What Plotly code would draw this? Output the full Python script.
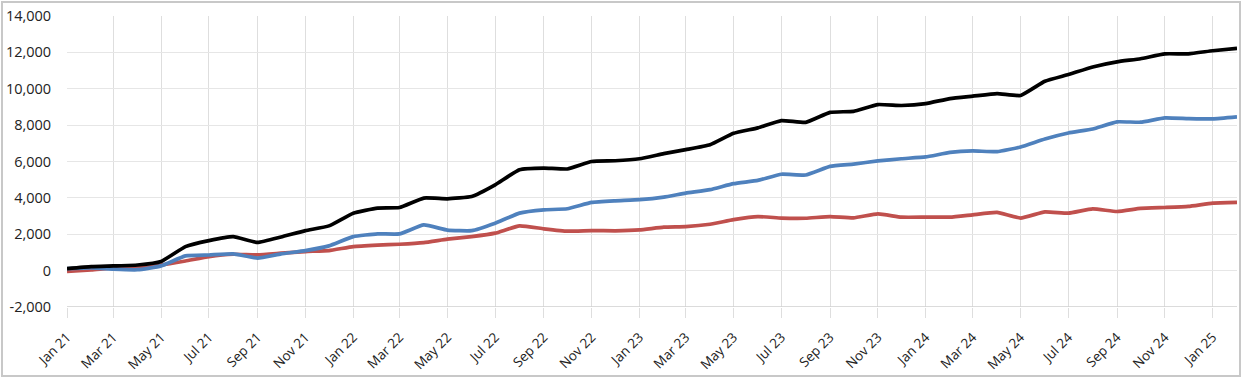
import plotly.graph_objects as go
import pandas as pd

months = pd.date_range("2021-01-01", "2025-02-01", freq="MS")

black_series = [110, 220, 260, 310, 500, 1320, 1650, 1870, 1550, 1850, 2200, 2460,
                3160, 3440, 3470, 3990, 3950, 4080, 4720, 5550, 5640, 5590, 6000, 6040,
                6150, 6430, 6650, 6920, 7550, 7850, 8250, 8150, 8700, 8760, 9130, 9080,
                9180, 9460, 9590, 9730, 9630, 10410, 10780, 11200, 11480, 11650, 11920, 11920,
                12090, 12220]
blue_series = [110, 150, 80, 50, 260, 810, 860, 920, 690, 920, 1100, 1360,
               1870, 2020, 2020, 2510, 2230, 2200, 2610, 3160, 3340, 3400, 3750, 3840,
               3900, 4040, 4260, 4450, 4780, 4960, 5300, 5260, 5730, 5860, 6030, 6150,
               6250, 6500, 6580, 6540, 6800, 7240, 7570, 7790, 8180, 8160, 8400, 8360,
               8340, 8450]
red_series = [-40, 40, 150, 190, 310, 530, 770, 900, 870, 960, 1050, 1100,
              1320, 1400, 1450, 1540, 1730, 1870, 2060, 2460, 2300, 2170, 2200, 2190,
              2240, 2390, 2420, 2550, 2800, 2970, 2890, 2880, 2970, 2900, 3120, 2940,
              2940, 2940, 3070, 3200, 2890, 3230, 3160, 3400, 3250, 3420, 3470, 3530,
              3710, 3750]

y_ticks = [-2000, 0, 2000, 4000, 6000, 8000, 10000, 12000, 14000]
y_labels = [f"{v:,}" for v in y_ticks]

fig = go.Figure()
for vals, col in [(red_series, "#c0504d"), (blue_series, "#4f81bd"), (black_series, "#000000")]:
    fig.add_trace(go.Scatter(x=months, y=vals, mode="lines",
                             line=dict(color=col, width=3.7, shape="spline", smoothing=0.4),
                             showlegend=False))

W, H = 1242, 378
L, R, T, B = 67, 5, 16, 71
pw, ph = W - L - R, H - T - B

fig.update_layout(
    width=W, height=H,
    margin=dict(l=L, r=R, t=T, b=B),
    paper_bgcolor="white", plot_bgcolor="white",
    font=dict(family="Open Sans", size=13, color="#222"),
    xaxis=dict(
        type="date",
        range=[months[0], months[-1]],
        tick0="2021-01-01", dtick="M2", tickformat="%b %y",
        tickangle=-45,
        automargin=False,
        showgrid=True, gridcolor="#dedede", gridwidth=1,
        ticks="outside", ticklen=10, tickcolor="#dedede",
        ticklabelstandoff=6,
        showline=False, zeroline=False,
        tickfont=dict(size=13.5, color="#222"),
    ),
    yaxis=dict(
        range=[-2000, 14000],
        automargin=False,
        tickvals=y_ticks, ticktext=y_labels,
        showgrid=True, gridcolor="#e6e6e6", gridwidth=1,
        zeroline=False,
        ticks="outside", ticklen=12, tickcolor="rgba(0,0,0,0)",
        tickfont=dict(size=14.5, color="#222"),
    ),
    shapes=[
        dict(type="line", xref="paper", yref="y", x0=0, x1=1, y0=-2000, y1=-2000,
             line=dict(color="#cfcfcf", width=1.5)),
        dict(type="rect", xref="paper", yref="paper",
             x0=-(L - 2) / pw, x1=1 + (R - 2) / pw,
             y0=-(B - 2) / ph, y1=1 + (T - 2) / ph,
             line=dict(color="#c8c8c8", width=2), fillcolor="rgba(0,0,0,0)", layer="below"),
    ],
)

fig.write_html("out.html", config={"displayModeBar": False},
               post_script="document.body.style.margin='0';document.body.style.overflow='hidden';")
